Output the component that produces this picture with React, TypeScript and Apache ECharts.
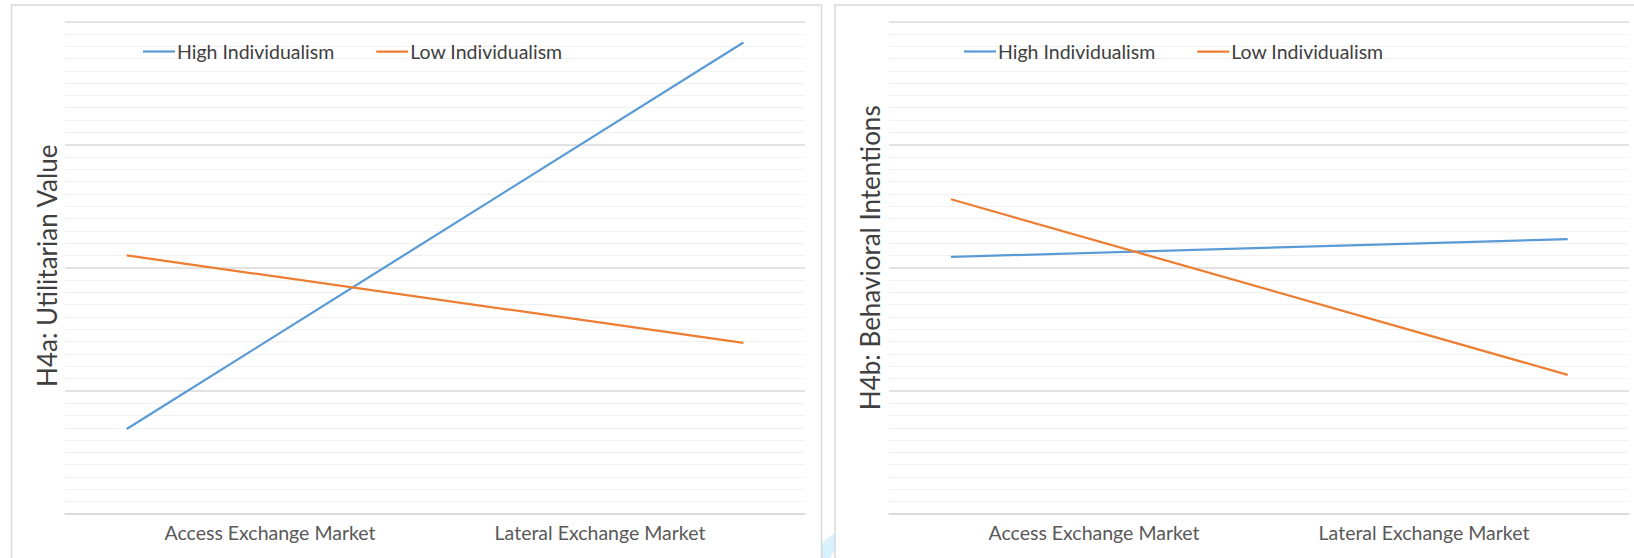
import React, { useEffect, useRef } from "react";
import * as echarts from "echarts";

const categories = ["Access Exchange Market", "Lateral Exchange Market"];
const seriesNames = ["High Individualism", "Low Individualism"];
const utilitarianHigh = [4.345, 5.915];
const utilitarianLow = [5.05, 4.695];
const behavioralHigh = [5.044, 5.116];
const behavioralLow = [5.278, 4.565];
const yTitles = ["H4a: Utilitarian Value", "H4b: Behavioral Intentions"];
const Y_MIN = 4;
const Y_MAX = 6;
const Y_INTERVAL = 0.5;

const FONT = "Lato";
const BLUE = "#5B9BD5";
const ORANGE = "#ED7D31";

export default function App() {
  const ref = useRef<HTMLDivElement>(null);

  useEffect(() => {
    if (!ref.current) return;
    const chart = echarts.init(ref.current, undefined, { renderer: "svg" });

    const TOP = 21.5;
    const HEIGHT = 492.5;
    const panels = [
      { frameLeft: 65, seriesLeft: 126.7, labelLeft: 105, legendLeft: 138, titleGap: 5, titleShift: 4 },
      { frameLeft: 889, seriesLeft: 951, labelLeft: 929, legendLeft: 959, titleGap: 6, titleShift: 20 },
    ];
    const dataSets = [
      [utilitarianHigh, utilitarianLow],
      [behavioralHigh, behavioralLow],
    ];

    const grid: any[] = [];
    const xAxis: any[] = [];
    const yAxis: any[] = [];
    const series: any[] = [];
    const legend: any[] = [];

    panels.forEach((p, i) => {
      const base = i * 3;
      grid.push({ left: p.frameLeft, top: TOP, width: 740, height: HEIGHT });
      grid.push({ left: p.seriesLeft, top: TOP, width: 616.7, height: HEIGHT });
      grid.push({ left: p.labelLeft, top: TOP, width: 660, height: HEIGHT });

      xAxis.push({
        gridIndex: base,
        type: "category",
        data: categories,
        boundaryGap: true,
        axisLine: { show: true, lineStyle: { color: "#d9d9d9", width: 1.5 } },
        axisTick: { show: false },
        axisLabel: { show: false },
        splitLine: { show: false },
      });
      xAxis.push({
        gridIndex: base + 1,
        type: "category",
        data: categories,
        boundaryGap: false,
        show: false,
      });
      xAxis.push({
        gridIndex: base + 2,
        type: "category",
        data: categories,
        boundaryGap: true,
        axisLine: { show: false },
        axisTick: { show: false },
        splitLine: { show: false },
        axisLabel: {
          show: true,
          fontFamily: FONT,
          fontSize: 19.5,
          color: "#595959",
          margin: 8,
        },
      });

      yAxis.push({
        gridIndex: base,
        type: "value",
        min: Y_MIN,
        max: Y_MAX,
        interval: Y_INTERVAL,
        axisLine: { show: false },
        axisTick: { show: false },
        axisLabel: { show: false },
        splitLine: { show: true, lineStyle: { color: "#d9d9d9", width: 1.5 } },
        minorTick: { show: false, splitNumber: 10 },
        minorSplitLine: { show: true, lineStyle: { color: "#f1f1f1", width: 1 } },
        name: yTitles[i],
        nameLocation: "middle",
        nameRotate: 90,
        nameGap: p.titleGap,
        nameTextStyle: {
          fontFamily: FONT,
          fontSize: 26,
          color: "#404040",
          padding: [0, 0, 0, p.titleShift],
        },
      });
      yAxis.push({
        gridIndex: base + 1,
        type: "value",
        min: Y_MIN,
        max: Y_MAX,
        interval: Y_INTERVAL,
        show: false,
      });
      yAxis.push({
        gridIndex: base + 2,
        type: "value",
        min: Y_MIN,
        max: Y_MAX,
        interval: Y_INTERVAL,
        show: false,
      });

      const [high, low] = dataSets[i];
      series.push({
        name: seriesNames[0],
        type: "line",
        xAxisIndex: base + 1,
        yAxisIndex: base + 1,
        data: high,
        symbol: "none",
        lineStyle: { color: BLUE, width: 2.25 },
        itemStyle: { color: BLUE },
      });
      series.push({
        name: seriesNames[1],
        type: "line",
        xAxisIndex: base + 1,
        yAxisIndex: base + 1,
        data: low,
        symbol: "none",
        lineStyle: { color: ORANGE, width: 2.25 },
        itemStyle: { color: ORANGE },
      });

      legend.push({
        left: p.legendLeft,
        top: 36.5,
        data: seriesNames,
        icon: "rect",
        itemWidth: 32,
        itemHeight: 2.25,
        itemGap: 42,
        textStyle: { fontFamily: FONT, fontSize: 19.5, color: "#404040", padding: [0, 0, 0, -3] },
      });
    });

    chart.setOption({
      animation: false,
      backgroundColor: "#ffffff",
      textStyle: { fontFamily: FONT },
      grid,
      xAxis,
      yAxis,
      series,
      legend,
      graphic: [
        {
          type: "arc",
          z: -100,
          shape: { cx: 852, cy: 566, r: 30, startAngle: Math.PI * 0.9, endAngle: Math.PI * 1.6 },
          style: { stroke: "#d8f0fb", lineWidth: 14, fill: "none" },
        },
        {
          type: "rect",
          z: -90,
          shape: { x: 11.5, y: 5, width: 810, height: 600 },
          style: { fill: "#ffffff", stroke: "#d9d9d9", lineWidth: 1.5 },
        },
        {
          type: "rect",
          z: -90,
          shape: { x: 835, y: 5, width: 900, height: 600 },
          style: { fill: "#ffffff", stroke: "#d9d9d9", lineWidth: 1.5 },
        },
      ],
    });

    return () => chart.dispose();
  }, []);

  return (
    <div
      ref={ref}
      style={{ position: "absolute", left: 0, top: 0, width: 1634, height: 558 }}
    />
  );
}
